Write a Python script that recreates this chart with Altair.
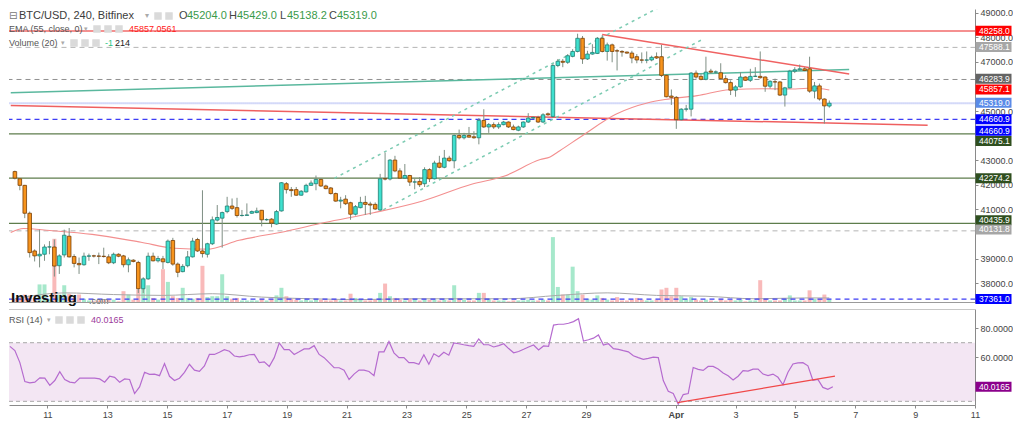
import altair as alt
import pandas as pd

# ---------------- data ----------------
# 4-hour BTC/USD candles (Bitfinex) starting Mar 9 2022 16:00 UTC.
# x is expressed as "day of March" (Apr 1 = 32).
FIRST_CANDLE_DAY = 9.75
CANDLE_DAYS = 4 / 24

opens = [
    42541, 42248, 41981, 40848, 39315, 39115, 39181, 39475, 39475, 38715,
    39155, 39915, 39088, 38808, 38755, 39101, 39115, 39110, 39101, 39075,
    38835, 39181, 39115, 38755, 38941, 38848, 37781, 38181, 39101, 38915,
    38995, 38848, 39741, 38781, 38475, 38715, 39075, 39781, 39315, 39181,
    39608, 40568, 40648, 40915, 41141, 41075, 40755, 40760, 40848, 40875,
    40968, 40581, 40608, 40408, 40941, 42048, 41808, 41808, 41581, 41715,
    41981, 42048, 42221, 41955, 41875, 41648, 41341, 41421, 41275, 40808,
    41075, 41288, 41221, 41208, 40981, 42248, 42240, 43008, 42568, 42275,
    42381, 42115, 42141, 42048, 42621, 42248, 42888, 42715, 43088, 42981,
    44008, 43915, 44008, 43955, 43915, 44621, 44355, 44448, 44355, 44448,
    44555, 44355, 44221, 44355, 44555, 44715, 44741, 44555, 44888, 44783,
    46850, 47023, 46983, 47223, 47423, 47957, 47117, 47317, 47343, 47957,
    47423, 47690, 47450, 47423, 47397, 47357, 47210, 47077, 47070, 47077,
    47210, 47210, 46450, 45610, 45557, 44650, 45077, 45077, 46543, 46410,
    46290, 46623, 46583, 46557, 46317, 46157, 45850, 45983, 46383, 46250,
    46410, 46410, 46383, 46010, 46190, 46183, 45650, 45943, 46623, 46677,
    46717, 46717, 45810, 46023, 45490, 45204]
highs = [
    42581, 42275, 42000, 40915, 39380, 40181, 39581, 39715, 39781, 39181,
    40181, 40248, 39181, 39048, 39248, 39208, 39160, 39248, 39448, 39181,
    39248, 39220, 39155, 39048, 38980, 38915, 38248, 39248, 39248, 39115,
    39115, 39781, 39848, 38848, 38781, 39315, 39848, 39848, 41781, 39648,
    40715, 41181, 40915, 41515, 41448, 41475, 40981, 41248, 40960, 41075,
    40981, 40640, 40648, 40981, 42115, 42115, 41915, 41915, 41790, 42048,
    42181, 42381, 42275, 42008, 41915, 41688, 41515, 41581, 41315, 41181,
    41515, 41555, 41315, 41288, 42448, 43315, 43048, 43181, 42675, 42848,
    42408, 42248, 42315, 42715, 42675, 42981, 43181, 43421, 43181, 44048,
    44248, 44115, 44355, 44181, 44715, 45075, 44515, 44541, 44541, 44600,
    44581, 44448, 44408, 44581, 44915, 44781, 44808, 44915, 44941, 46917,
    47117, 47117, 47317, 47517, 48143, 48050, 47450, 47717, 48010, 48090,
    47783, 47743, 47517, 47477, 47420, 47450, 47317, 47383, 47423, 47250,
    47383, 47690, 46490, 45877, 45610, 45117, 45250, 46583, 46650, 46517,
    47210, 46717, 46650, 46943, 46450, 46250, 46050, 46583, 46410, 46717,
    46783, 47423, 46410, 46250, 46317, 46223, 45983, 46677, 46783, 46890,
    46783, 47210, 46183, 46117, 45517, 45429]
lows = [
    42221, 41781, 40648, 39048, 38888, 38648, 38915, 39181, 38275, 38381,
    39048, 39048, 38648, 38381, 38715, 38915, 39050, 38781, 39048, 38781,
    38781, 39060, 38648, 38448, 38850, 37608, 37608, 38141, 38888, 38848,
    38581, 38808, 38715, 38248, 38448, 38648, 39048, 39275, 39048, 39048,
    39555, 40515, 39448, 40848, 40981, 40675, 40715, 40755, 40820, 40848,
    40315, 40540, 40275, 40381, 40915, 41648, 41515, 41555, 41560, 41688,
    41955, 41781, 41915, 41821, 41608, 41315, 41048, 41181, 40581, 40755,
    41048, 40781, 40781, 40981, 40941, 42181, 42181, 42515, 42248, 42248,
    41955, 41821, 41915, 41915, 42115, 42221, 42675, 42675, 42941, 42675,
    43848, 43848, 43915, 43875, 43648, 44315, 44115, 44275, 44275, 44420,
    44315, 44221, 44181, 44315, 44515, 44675, 44515, 44515, 44808, 44717,
    46783, 46783, 46917, 47183, 47383, 46917, 47077, 47290, 47317, 47383,
    47050, 46983, 46650, 47210, 47330, 46943, 46943, 46943, 46943, 47023,
    47117, 46383, 45557, 45250, 44277, 44623, 44983, 44783, 46317, 46250,
    46250, 46517, 46517, 46277, 46117, 45650, 45583, 45957, 46223, 46183,
    46383, 46317, 45783, 45917, 45850, 45610, 45183, 45917, 46543, 46650,
    46623, 45743, 45517, 45423, 44490, 45138]
closes = [
    42275, 41981, 40848, 39248, 39115, 39181, 39475, 39480, 38701, 39115,
    39955, 39075, 38808, 38755, 39101, 39115, 39110, 39101, 39088, 38835,
    39181, 39101, 38755, 38955, 38888, 37781, 38181, 39101, 38915, 39008,
    38875, 39715, 38781, 38448, 38688, 39075, 39715, 39315, 39208, 39608,
    40581, 40675, 40875, 41141, 41048, 40755, 40760, 40780, 40915, 40941,
    40581, 40590, 40448, 40915, 42088, 41808, 41768, 41581, 41741, 41981,
    42075, 42221, 41955, 41848, 41648, 41341, 41381, 41235, 40808, 41115,
    41288, 41208, 41181, 41021, 42248, 42240, 43008, 42568, 42275, 42381,
    42115, 42120, 42008, 42621, 42248, 42888, 42715, 43088, 42981, 44008,
    43915, 44008, 43941, 43915, 44621, 44355, 44448, 44355, 44448, 44555,
    44355, 44248, 44355, 44555, 44715, 44741, 44555, 44848, 44848, 46850,
    47023, 46983, 47250, 47423, 47957, 47117, 47317, 47383, 47957, 47423,
    47690, 47423, 47440, 47397, 47357, 47157, 47077, 47070, 47077, 47183,
    47157, 46450, 45583, 45557, 44650, 45077, 45085, 46543, 46383, 46290,
    46583, 46583, 46590, 46317, 46157, 45850, 45983, 46383, 46250, 46410,
    46415, 46357, 46010, 46210, 46183, 45650, 45943, 46623, 46677, 46717,
    46650, 45810, 46023, 45490, 45210, 45319]
volumes = [
    250, 300, 500, 450, 300, 1100, 1100, 250, 3800, 500,
    1050, 550, 300, 500, 250, 150, 100, 150, 150, 200,
    200, 100, 700, 500, 200, 800, 850, 1050, 300, 200,
    2000, 1250, 400, 300, 900, 300, 250, 300, 2200, 350,
    400, 400, 1700, 400, 250, 300, 150, 150, 150, 150,
    250, 150, 250, 450, 900, 400, 250, 200, 150, 200,
    150, 200, 200, 150, 150, 200, 150, 150, 550, 300,
    200, 150, 150, 200, 600, 1150, 400, 300, 200, 150,
    250, 200, 150, 200, 200, 200, 150, 200, 150, 1050,
    300, 200, 150, 150, 600, 600, 250, 150, 150, 150,
    100, 150, 150, 150, 200, 150, 150, 200, 150, 3900,
    950, 500, 500, 2150, 700, 500, 250, 200, 450, 300,
    200, 150, 350, 150, 150, 200, 300, 200, 150, 150,
    200, 800, 900, 400, 900, 400, 200, 350, 200, 150,
    200, 150, 100, 250, 150, 200, 150, 200, 100, 150,
    150, 1350, 250, 150, 150, 150, 250, 450, 150, 150,
    150, 750, 250, 250, 500, 214]
rsi = [
    67.5, 64.6, 56.4, 43.5, 42.6, 43.1, 46.0, 45.8, 40.9, 44.2,
    50.2, 44.9, 43.1, 42.6, 45.8, 45.8, 45.8, 45.8, 45.3, 43.1,
    47.1, 46.4, 43.1, 45.3, 44.9, 35.3, 39.8, 49.8, 48.4, 48.6,
    47.5, 55.8, 47.1, 44.2, 45.8, 49.8, 55.3, 51.3, 50.4, 54.2,
    62.0, 62.0, 63.5, 65.3, 64.2, 60.9, 60.4, 60.9, 61.8, 62.0,
    56.4, 56.9, 53.8, 59.8, 69.8, 65.3, 65.3, 62.0, 63.8, 65.8,
    65.8, 68.0, 62.0, 59.8, 56.4, 52.9, 52.9, 51.3, 44.9, 48.6,
    51.3, 51.3, 50.4, 47.5, 63.8, 63.8, 70.9, 63.1, 59.8, 59.8,
    56.4, 56.4, 55.3, 61.8, 55.3, 62.4, 60.4, 63.5, 61.5, 69.8,
    69.3, 68.6, 68.0, 67.5, 72.6, 68.6, 68.6, 67.1, 68.0, 69.3,
    66.0, 63.1, 64.0, 65.5, 67.1, 68.4, 65.1, 67.8, 67.5, 82.0,
    82.6, 82.6, 83.3, 84.4, 86.4, 71.1, 72.0, 73.1, 75.3, 68.4,
    69.3, 66.0, 65.5, 64.6, 63.8, 61.1, 59.8, 58.6, 59.3, 60.2,
    59.8, 44.2, 36.9, 35.3, 28.0, 34.6, 35.3, 53.1, 51.8, 51.1,
    53.8, 53.8, 52.0, 49.3, 47.5, 44.6, 47.1, 50.9, 50.6, 52.0,
    52.0, 48.6, 47.5, 48.6, 46.4, 41.3, 49.8, 55.5, 56.2, 56.4,
    54.2, 44.4, 44.9, 39.5, 38.2, 40.0165]

# EMA(55) read at sample points
ema_day = [9.61, 10.04, 10.93, 12.36, 14.01, 15.14, 16.23, 17.32, 18.88, 20.21,
           21.86, 23.52, 25.17, 26.26, 27.49, 27.82, 28.15, 28.91, 30.04, 31.13,
           31.70, 32.79, 33.88, 35.01, 36.10, 36.66, 37.25]
ema_val = [40068, 40228, 40148, 39988, 39668, 39428, 39388, 39748, 40108, 40468,
           40868, 41348, 42028, 42348, 43028, 43136, 43388, 44000, 44868, 45336,
           45468, 45628, 45868, 45908, 45896, 45936, 45857]

# Volume moving average (20) read at candle indexes
vma_idx = [0, 10, 20, 30, 40, 50, 60, 70, 80, 90, 100, 110, 120, 130, 140, 150, 160, 165]
vma_val = [250, 600, 500, 450, 550, 350, 250, 200, 250, 250, 250, 450, 600, 450, 400, 250, 300, 300]

# horizontal price levels
level_price = [48258.0, 47588.1, 46283.9, 45319.0, 44660.9, 44075.1, 42274.2, 40435.9, 40131.8, 37361.0]
level_color = ['#f26b6b', '#b4b4b4', '#8f8f8f', '#a9b4f2', '#3d3df5', '#5e7d4c', '#5e7d4c', '#5e7d4c', '#b4b4b4', '#3d3df5']
level_style = ['solid', 'dashed', 'dashed', 'dotted', 'dashed', 'solid', 'solid', 'solid', 'dashed', 'dashed']
level_width = [1.5, 1, 1, 2, 1.2, 1.2, 1.2, 1.2, 1, 1.2]
level_start = [9.5] * 10
level_end = [43.0] * 10

# drawn trend lines: (start day, start price, end day, end price)
trend_id = ['teal', 'redlong', 'chan_up', 'chan_low', 'reddown']
trend_d0 = [9.61, 9.61, 20.54, 22.19, 29.58]
trend_p0 = [45748, 45228, 42268, 40988, 48108]
trend_d1 = [37.92, 40.57, 31.46, 33.02, 37.92]
trend_p1 = [46688, 44428, 49188, 47948, 46508]
trend_color = ['#5ab89e', '#ef5f5f', '#7ccbb2', '#7ccbb2', '#f06262']
trend_style = ['solid', 'solid', 'dashed', 'dashed', 'solid']

# RSI trend line
rsi_trend_day = [32.06, 37.32]
rsi_trend_val = [29.1, 47.2]

# price tags on the right axis (placed where the reference shows them)
tag_pos = [48268, 47600, 46310, 45880, 45336, 44668, 44200, 43780, 42268, 40560, 40190, 37361]
tag_text = ['48258.0', '47588.1', '46283.9', '45857.1', '45319.0', '44660.9', '44660.9',
            '44075.1', '42274.2', '40435.9', '40131.8', '37361.0']
tag_color = ['#ff0000', '#a6a6a6', '#646464', '#ff0000', '#5a8be8', '#0000ff', '#0000ff',
             '#2f4f1f', '#2f4f1f', '#2f4f1f', '#a6a6a6', '#0000ff']

# axis tick labels that are not hidden behind the price tags
price_ticks = [38000, 39000, 41000, 42000, 43000, 45000, 47000, 48000, 49000]
rsi_ticks = [60, 80]
x_ticks = [11, 13, 15, 17, 19, 21, 23, 25, 27, 29, 32, 34, 36, 38, 40, 42]

# ---------------- chart ----------------
W, H_MAIN, H_RSI = 966, 294, 96
X_DOMAIN = [9.72, 42.0]
P_DOMAIN = [37200, 49148]
R_DOMAIN = [27.5, 93]
VOL_DOMAIN = [0, 17400]
FONT = 'Liberation Sans'
AXIS_FONT = 'Liberation Sans Narrow, Liberation Sans'

UP_FILL, UP_LINE = '#3fe0cf', '#1f7f72'
DN_FILL, DN_LINE = '#f7941d', '#7a3f05'
WICK = '#7f8f84'
UP = 'datum.close >= datum.open'

n = len(opens)
dfc = pd.DataFrame({
    'day': [FIRST_CANDLE_DAY + i * CANDLE_DAYS for i in range(n)],
    'open': opens, 'high': highs, 'low': lows, 'close': closes,
    'volume': volumes, 'rsi': rsi,
})
dfe = pd.DataFrame({'day': ema_day, 'ema': ema_val})
dfv = pd.DataFrame({'day': [FIRST_CANDLE_DAY + i * CANDLE_DAYS for i in vma_idx], 'vma': vma_val})
dfl = pd.DataFrame({'price': level_price, 'color': level_color, 'style': level_style,
                    'w': level_width, 'x0': level_start, 'x1': level_end})
rows = []
for k in range(len(trend_id)):
    rows.append({'id': trend_id[k], 'day': trend_d0[k], 'price': trend_p0[k],
                 'color': trend_color[k], 'style': trend_style[k]})
    rows.append({'id': trend_id[k], 'day': trend_d1[k], 'price': trend_p1[k],
                 'color': trend_color[k], 'style': trend_style[k]})
dft = pd.DataFrame(rows)
dftag = pd.DataFrame({'pos': tag_pos, 'text': tag_text, 'color': tag_color})
one = pd.DataFrame({'k': [0]})

xs = alt.Scale(domain=X_DOMAIN, nice=False, zero=False)
ps = alt.Scale(domain=P_DOMAIN, nice=False, zero=False)
rs = alt.Scale(domain=R_DOMAIN, nice=False, zero=False)

price_axis = alt.Axis(orient='right', values=price_ticks, format='.1f', zindex=0,
                      grid=False, title=None, domainColor='#8a8a8a', tickColor='#8a8a8a',
                      tickSize=3, labelPadding=2, labelFontSize=9, labelColor='#444',
                      labelFont=AXIS_FONT, labelOverlap=False, labelFlush=False, labelBound=False)
rsi_axis = alt.Axis(orient='right', values=rsi_ticks, format='.4f', grid=False, title=None,
                    zindex=0, domainColor='#8a8a8a', tickColor='#8a8a8a', tickSize=3, labelPadding=2,
                    labelFontSize=9, labelColor='#444', labelFont=AXIS_FONT, labelOverlap=False,
                    labelFlush=False)
x_axis = alt.Axis(values=x_ticks, grid=False, title=None, tickSize=3, labelPadding=2,
                  labelFontSize=9, labelColor='#444', labelFont=AXIS_FONT,
                  domainColor='#8a8a8a', tickColor='#8a8a8a', labelFlush=False,
                  labelExpr="datum.value == 32 ? 'Apr' : (datum.value > 31 ? datum.value - 31 : datum.value)",
                  labelFontWeight={"condition": {"test": "datum.value == 32", "value": "bold"}, "value": "normal"})


def X(f='day'):
    return alt.X(f + ':Q', scale=xs, axis=None)


def PY(f):
    return alt.Y(f + ':Q', scale=ps, axis=price_axis)


def txt(s, x, y, color='#555', size=9, weight='normal', font=FONT, align='left'):
    return alt.Chart(one).mark_text(text=s, align=align, baseline='middle', color=color,
                                    fontSize=size, fontWeight=weight, font=font).encode(
        x=alt.value(x), y=alt.value(y))


def icon(x, y, size=56):
    return alt.Chart(one).mark_square(color='#dadada', size=size, opacity=1).encode(
        x=alt.value(x), y=alt.value(y))


# --- levels
lvl_layers = []
for style, dash in [('solid', None), ('dashed', [5, 4]), ('dotted', [1, 1])]:
    mk = dict(clip=True)
    if dash:
        mk['strokeDash'] = dash
    lvl_layers.append(
        alt.Chart(dfl).transform_filter(alt.datum.style == style).mark_rule(**mk).encode(
            x=X('x0'), x2='x1:Q', y=PY('price'),
            color=alt.Color('color:N', scale=None),
            strokeWidth=alt.StrokeWidth('w:Q', scale=None)))

# --- trend lines
tr_layers = []
for style, dash in [('solid', None), ('dashed', [3, 4])]:
    mk = dict(clip=True, strokeWidth=1.5)
    if dash:
        mk['strokeDash'] = dash
    tr_layers.append(
        alt.Chart(dft).transform_filter(alt.datum.style == style).mark_line(**mk).encode(
            x=X('day'), y=PY('price'), detail='id:N',
            color=alt.Color('color:N', scale=None)))

ema = alt.Chart(dfe).mark_line(color='#f38f8f', strokeWidth=1.1, clip=True, interpolate='monotone').encode(
    x=X('day'), y=PY('ema'))

wicks = alt.Chart(dfc).mark_rule(color=WICK, strokeWidth=1, clip=True).encode(
    x=X('day'), y=PY('low'), y2='high:Q')
bodies = alt.Chart(dfc).mark_bar(width=3.6, strokeWidth=0.8, clip=True).encode(
    x=X('day'), y=PY('open'), y2='close:Q',
    color=alt.condition(UP, alt.value(UP_FILL), alt.value(DN_FILL)),
    stroke=alt.condition(UP, alt.value(UP_LINE), alt.value(DN_LINE)))

tag_box = alt.Chart(dftag).mark_tick(orient='horizontal', size=36, thickness=10, opacity=1).encode(
    x=alt.value(W + 18.5), y=PY('pos'), color=alt.Color('color:N', scale=None))
tag_txt = alt.Chart(dftag).mark_text(align='left', baseline='middle', color='white',
                                     fontSize=8.5, font=AXIS_FONT).encode(
    x=alt.value(W + 4), y=PY('pos'), text='text:N')

price_group = alt.layer(*lvl_layers, *tr_layers, ema, wicks, bodies, tag_box, tag_txt)

vol_y = alt.Y('volume:Q', scale=alt.Scale(domain=VOL_DOMAIN), axis=None)
vol_bars = alt.Chart(dfc).mark_bar(width=4, clip=True).encode(
    x=X('day'), y=vol_y,
    color=alt.condition(UP, alt.value('#a6e8cb'), alt.value('#f9baba')))
vol_ma = alt.Chart(dfv).mark_line(color='#a8a8a8', strokeWidth=1, clip=True, interpolate='monotone').encode(
    x=X('day'), y=alt.Y('vma:Q', scale=alt.Scale(domain=VOL_DOMAIN), axis=None))
vol_group = alt.layer(vol_bars, vol_ma)

GREEN = '#3a9a4a'
decor = [
    txt('⊟', 0, 7, color='#777', size=10, font='DejaVu Sans'),
    txt('BTC/USD, 240, Bitfinex', 10, 7, color='#3c3c3c', size=11),
    txt('▾', 136, 7, color='#aaa', size=8, font='DejaVu Sans'),
    icon(149, 7), icon(160, 7),
    txt('O', 170, 7, color='#444', size=11), txt('45204.0', 178, 7, color=GREEN, size=11),
    txt('H', 220, 7, color='#444', size=11), txt('45429.0', 228, 7, color=GREEN, size=11),
    txt('L', 271, 7, color='#444', size=11), txt('45138.2', 278, 7, color=GREEN, size=11),
    txt('C', 320, 7, color='#444', size=11), txt('45319.0', 328, 7, color=GREEN, size=11),
    txt('EMA (55, close, 0)', 0, 20),
    txt('▾', 75, 20, color='#aaa', size=7, font='DejaVu Sans'),
    icon(88, 20), icon(99, 20), icon(110, 20),
    txt('45857.0561', 120, 20, color='#ff2020'),
    txt('Volume (20)', 0, 34),
    txt('▾', 52, 34, color='#aaa', size=7, font='DejaVu Sans'),
    icon(65, 34), icon(76, 34), icon(87, 34),
    txt('-1', 96, 34, color='#26c281'),
    txt('214', 106, 34, color='#222'),
    txt('Investing', 2, 289, color='#111', size=15, weight='bold'),
    txt('.com', 80, 292, color='#666', size=9),
    alt.Chart(one).mark_rule(color='#9a9a9a', strokeWidth=1).encode(
        x=alt.value(0), x2=alt.value(W), y=alt.value(H_MAIN - 0.5)),
]

main = alt.layer(vol_group, price_group, *decor).resolve_scale(y='independent').properties(
    width=W, height=H_MAIN)

# ---------------- RSI panel ----------------
XR = alt.X('day:Q', scale=xs, axis=x_axis)
band = alt.Chart(pd.DataFrame({'lo': [30], 'hi': [70]})).mark_rect(color='#f3e6f3').encode(
    x=alt.value(0), x2=alt.value(W), y=alt.Y('hi:Q', scale=rs, axis=rsi_axis), y2='lo:Q')
band_lines = alt.Chart(pd.DataFrame({'lvl': [30, 70]})).mark_rule(
    color='#a8a8a8', strokeDash=[4, 3], strokeWidth=1).encode(
    x=alt.value(0), x2=alt.value(W), y=alt.Y('lvl:Q', scale=rs, axis=rsi_axis))
rsi_line = alt.Chart(dfc).mark_line(color='#b56bcf', strokeWidth=1.2, clip=True).encode(
    x=XR, y=alt.Y('rsi:Q', scale=rs, axis=rsi_axis))
rsi_tr = alt.Chart(pd.DataFrame({'day': rsi_trend_day, 'v': rsi_trend_val})).mark_line(
    color='#f04848', strokeWidth=1.2, clip=True).encode(
    x=XR, y=alt.Y('v:Q', scale=rs, axis=rsi_axis))
rsi_tag_df = pd.DataFrame({'pos': [rsi[-1]], 'text': ['40.0165']})
rsi_tag_box = alt.Chart(rsi_tag_df).mark_tick(orient='horizontal', size=36, thickness=10,
                                              opacity=1, color='#8b008b').encode(
    x=alt.value(W + 18.5), y=alt.Y('pos:Q', scale=rs, axis=rsi_axis))
rsi_tag_txt = alt.Chart(rsi_tag_df).mark_text(align='left', baseline='middle', color='white',
                                              fontSize=8.5, font=AXIS_FONT).encode(
    x=alt.value(W + 4), y=alt.Y('pos:Q', scale=rs, axis=rsi_axis), text='text:N')
rsi_decor = [
    txt('RSI (14)', 0, 11),
    txt('▾', 38, 11, color='#aaa', size=7, font='DejaVu Sans'),
    icon(50, 11), icon(61, 11), icon(72, 11),
    txt('40.0165', 82, 11, color='#9b3a9b'),
    alt.Chart(one).mark_rule(color='#c8c8c8', strokeWidth=1).encode(
        x=alt.value(0), x2=alt.value(W), y=alt.value(0.5)),
]
rsi_panel = alt.layer(band, band_lines, rsi_line, rsi_tr, rsi_tag_box, rsi_tag_txt,
                      *rsi_decor).properties(width=W, height=H_RSI)

chart = alt.vconcat(main, rsi_panel, spacing=3).properties(
    padding=0, background='white').configure_view(stroke=None)

chart.save("out.html", embed_options={"renderer": "svg", "actions": False})
